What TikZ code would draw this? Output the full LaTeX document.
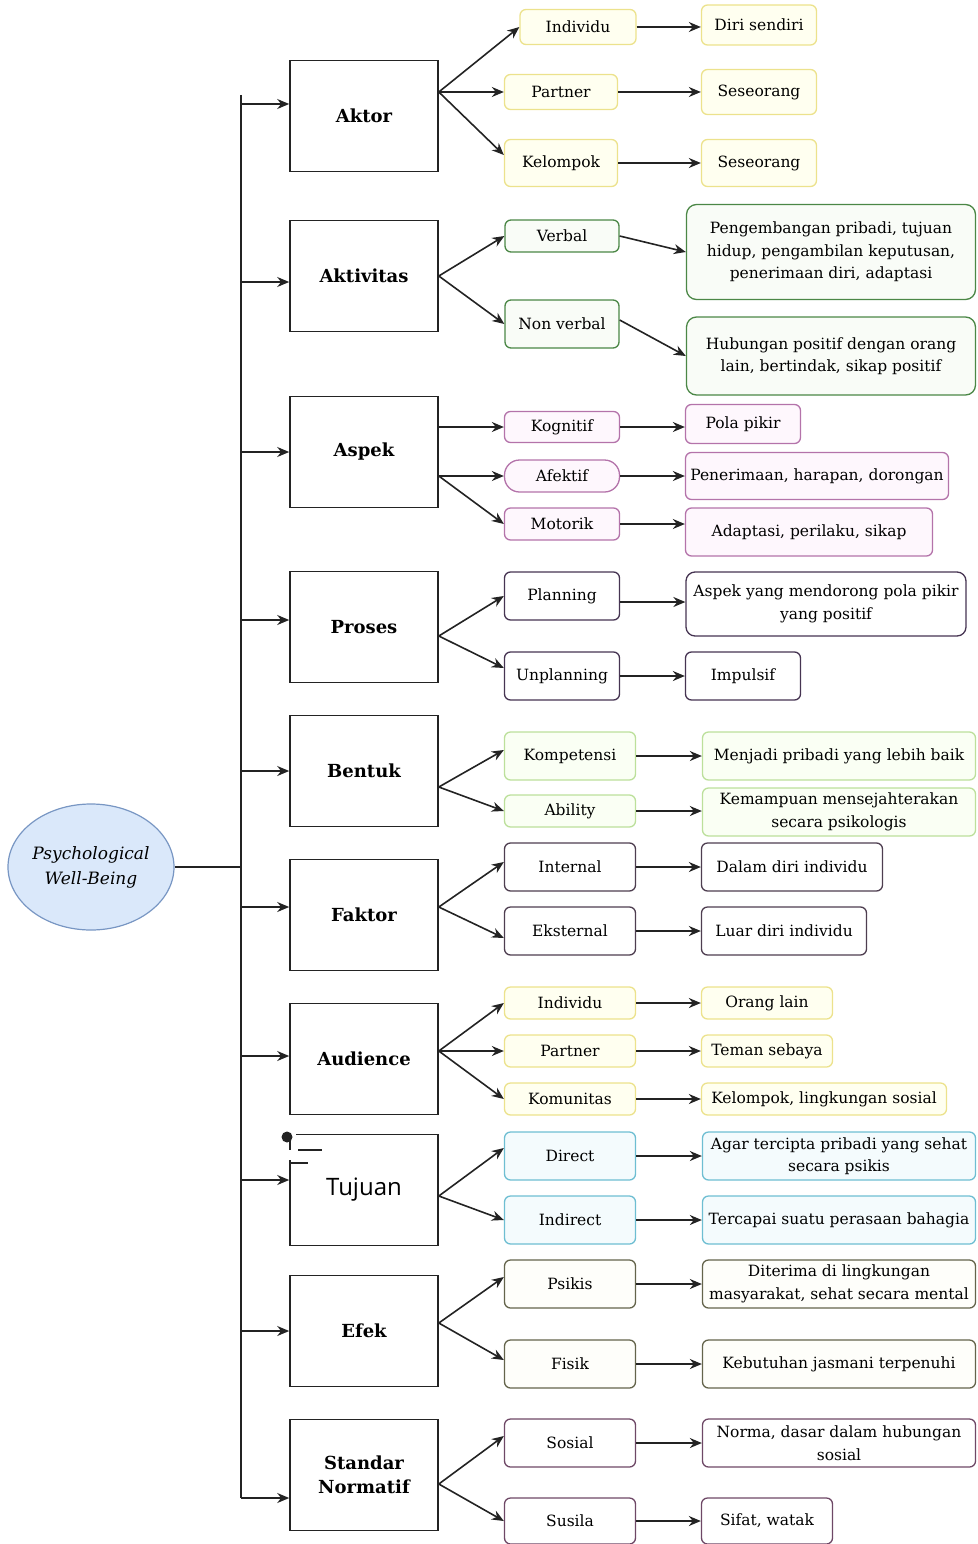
\documentclass[tikz,border=0pt]{standalone}
\usepackage{fontspec}
\setmainfont{DejaVu Serif}
\newfontfamily\tujuanfont{Open Sans}
\usetikzlibrary{arrows.meta,shapes.geometric}

% colours of the boxes (border / fill)
\definecolor{garis}{RGB}{35,35,35}
\definecolor{biruG}{RGB}{120,150,195}
\definecolor{biruF}{RGB}{218,232,250}
\definecolor{kuningG}{RGB}{236,226,140}
\definecolor{kuningF}{RGB}{255,255,240}
\definecolor{hijauG}{RGB}{75,135,70}
\definecolor{hijauF}{RGB}{249,252,247}
\definecolor{pinkG}{RGB}{180,115,170}
\definecolor{pinkF}{RGB}{254,247,253}
\definecolor{unguG}{RGB}{70,52,82}
\definecolor{hmudaG}{RGB}{188,224,155}
\definecolor{hmudaF}{RGB}{250,255,244}
\definecolor{coklatG}{RGB}{78,62,80}
\definecolor{cyanG}{RGB}{110,190,210}
\definecolor{cyanF}{RGB}{244,251,253}
\definecolor{zaitunG}{RGB}{100,100,75}
\definecolor{zaitunF}{RGB}{254,254,250}
\definecolor{maroonG}{RGB}{110,72,102}

\tikzset{
  utama/.style={draw=garis, line width=1.6pt, fill=white, minimum width=148, minimum height=111,
    align=center, font=\bfseries\fontsize{18}{24}\selectfont},
  sub/.style={draw, line width=1.3pt, rounded corners=6pt, align=center, inner sep=1pt,
    font=\fontsize{15.5}{22.5}\selectfont},
  panah/.style={-{Stealth[length=12pt,width=10pt]}, line width=1.6pt, draw=garis},
  kuning/.style={draw=kuningG, fill=kuningF},
  hijau/.style={draw=hijauG, fill=hijauF},
  pink/.style={draw=pinkG, fill=pinkF},
  ungu/.style={draw=unguG, fill=white},
  hmuda/.style={draw=hmudaG, fill=hmudaF},
  coklat/.style={draw=coklatG, fill=white},
  cyan/.style={draw=cyanG, fill=cyanF},
  zaitun/.style={draw=zaitunG, fill=zaitunF},
  maroon/.style={draw=maroonG, fill=white}
}

\begin{document}
\begin{tikzpicture}[x=1pt,y=-1pt]

    \useasboundingbox (0,0) rectangle (977,1544);

    % --- Root ---
    \node[ellipse, draw=biruG, fill=biruF, line width=1.2pt, minimum width=166, minimum height=126,
      align=center, inner sep=0pt, font=\itshape\fontsize{17}{25}\selectfont]
      (pwb) at (91,867) {Psychological\\Well-Being};

    % --- Bus line ---
    \coordinate (busTop) at (241,95);
    \coordinate (busBot) at (241,1498);
    \draw[line width=1.6pt, garis] (busTop) -- (busBot);
    \draw[line width=1.6pt, garis] (pwb.east) -- (busTop |- pwb.east);

    % --- Main boxes ---
    \node[utama] (aktor) at (364,116) {Aktor};
    \node[utama] (aktivitas) at (364,276) {Aktivitas};
    \node[utama] (aspek) at (364,452) {Aspek};
    \node[utama] (proses) at (364,627) {Proses};
    \node[utama] (bentuk) at (364,771) {Bentuk};
    \node[utama] (faktor) at (364,915) {Faktor};
    \node[utama] (audience) at (364,1059) {Audience};
    \node[utama, font=\tujuanfont\fontsize{24}{26}\selectfont] (tujuan) at (364,1190) {Tujuan};
    \node[utama] (efek) at (364,1331) {Efek};
    \node[utama] (standar) at (364,1475) {Standar\\Normatif};

    % arrows from the bus to the main boxes
    \path ([yshift=12pt]aktor.west) coordinate (pAktor);
    \path ([yshift=-6pt]aktivitas.west) coordinate (pAktivitas);
    \path ([yshift=7pt]proses.west) coordinate (pProses);
    \path ([yshift=8pt]faktor.west) coordinate (pFaktor);
    \path ([yshift=3pt]audience.west) coordinate (pAudience);
    \path ([yshift=10pt]tujuan.west) coordinate (pTujuan);
    \path ([yshift=-23pt]standar.west) coordinate (pStandar);
    \draw[panah] (busTop |- pAktor) -- (pAktor);
    \draw[panah] (busTop |- pAktivitas) -- (pAktivitas);
    \draw[panah] (busTop |- aspek.west) -- (aspek.west);
    \draw[panah] (busTop |- pProses) -- (pProses);
    \draw[panah] (busTop |- bentuk.west) -- (bentuk.west);
    \draw[panah] (busTop |- pFaktor) -- (pFaktor);
    \draw[panah] (busTop |- pAudience) -- (pAudience);
    \draw[panah] (busTop |- pTujuan) -- (pTujuan);
    \draw[panah] (busTop |- efek.west) -- (efek.west);
    \draw[panah] (busBot) -- (pStandar);

    % stray marks on the Tujuan box
    \fill[white] (286,1131) rectangle (296,1160);
    \draw[line width=1.6pt, garis] (290,1140) -- (290,1150);
    \fill[garis] (287,1137) circle (5.5pt);
    \draw[line width=1.2pt, garis] (298,1150) -- (322,1150);
    \draw[line width=1.2pt, garis] (290,1163) -- (308,1163);

    % --- Aktor ---
    \node[sub, kuning, minimum width=116, minimum height=35] (aktIndividu) at (578,27) {Individu};
    \node[sub, kuning, minimum width=113, minimum height=35] (aktPartner) at (561,92) {Partner};
    \node[sub, kuning, minimum width=113, minimum height=47] (aktKelompok) at (561,163) {Kelompok};
    \node[sub, kuning, minimum width=115, minimum height=40] (aktDiri) at (759,25) {Diri sendiri};
    \node[sub, kuning, minimum width=115, minimum height=45] (aktSeseorang) at (759,92) {Seseorang};
    \node[sub, kuning, minimum width=115, minimum height=47] (aktSeseorangB) at (759,163) {Seseorang};
    \draw[panah] (aktor.east |- aktPartner) -- (aktIndividu.west);
    \draw[panah] (aktor.east |- aktPartner) -- (aktPartner.west);
    \draw[panah] (aktor.east |- aktPartner) -- ([yshift=8pt]aktKelompok.west);
    \draw[panah] (aktIndividu.east) -- (aktIndividu.east -| aktDiri.west);
    \draw[panah] (aktPartner.east) -- (aktSeseorang.west);
    \draw[panah] (aktKelompok.east) -- (aktSeseorangB.west);

    % --- Aktivitas ---
    \node[sub, hijau, minimum width=114, minimum height=32] (verbal) at (562,236) {Verbal};
    \node[sub, hijau, minimum width=114, minimum height=48] (nonVerbal) at (562,324) {Non verbal};
    \node[sub, hijau, rounded corners=10pt, minimum width=289, minimum height=95] (verbalIsi) at (831,252)
      {Pengembangan pribadi, tujuan\\hidup, pengambilan keputusan,\\penerimaan diri, adaptasi};
    \node[sub, hijau, rounded corners=10pt, minimum width=289, minimum height=78] (nonVerbalIsi) at (831,356)
      {Hubungan positif dengan orang\\lain, bertindak, sikap positif};
    \draw[panah] (aktivitas.east) -- (verbal.west);
    \draw[panah] (aktivitas.east) -- (nonVerbal.west);
    \draw[panah] (verbal.east) -- (verbalIsi.west);
    \draw[panah] ([yshift=4pt]nonVerbal.east) -- (nonVerbalIsi.west);

    % --- Aspek ---
    \node[sub, pink, minimum width=115, minimum height=31] (kognitif) at (562,427) {Kognitif};
    \node[sub, pink, rounded corners=15pt, minimum width=115, minimum height=32] (afektif) at (562,476) {Afektif};
    \node[sub, pink, minimum width=115, minimum height=32] (motorik) at (562,524) {Motorik};
    \node[sub, pink, minimum width=115, minimum height=39] (polaPikir) at (743,424) {Pola pikir};
    \node[sub, pink, minimum width=263, minimum height=47] (penerimaan) at (817,476) {Penerimaan, harapan, dorongan};
    \node[sub, pink, minimum width=247, minimum height=48] (adaptasi) at (809,532) {Adaptasi, perilaku, sikap};
    \draw[panah] (aspek.east |- kognitif) -- (kognitif.west);
    \draw[panah] (aspek.east |- afektif) -- (afektif.west);
    \draw[panah] (aspek.east |- afektif) -- (motorik.west);
    \draw[panah] (kognitif.east) -- (kognitif.east -| polaPikir.west);
    \draw[panah] (afektif.east) -- (penerimaan.west);
    \draw[panah] (motorik.east) -- (motorik.east -| adaptasi.west);

    % --- Proses ---
    \node[sub, ungu, minimum width=115, minimum height=48] (planning) at (562,596) {Planning};
    \node[sub, ungu, minimum width=115, minimum height=48] (unplanning) at (562,676) {Unplanning};
    \node[sub, ungu, rounded corners=9pt, minimum width=280, minimum height=64] (planningIsi) at (826,604)
      {Aspek yang mendorong pola pikir\\yang positif};
    \node[sub, ungu, minimum width=115, minimum height=48] (impulsif) at (743,676) {Impulsif};
    \draw[panah] ([yshift=-9pt]proses.east) -- (planning.west);
    \draw[panah] ([yshift=-9pt]proses.east) -- ([yshift=8pt]unplanning.west);
    \draw[panah] ([yshift=-6pt]planning.east) -- ([yshift=-6pt]planning.east -| planningIsi.west);
    \draw[panah] (unplanning.east) -- (impulsif.west);

    % --- Bentuk ---
    \node[sub, hmuda, minimum width=131, minimum height=48] (kompetensi) at (570,756) {Kompetensi};
    \node[sub, hmuda, minimum width=131, minimum height=32] (ability) at (570,811) {Ability};
    \node[sub, hmuda, minimum width=273, minimum height=48] (menjadi) at (839,756) {Menjadi pribadi yang lebih baik};
    \node[sub, hmuda, minimum width=273, minimum height=48] (kemampuan) at (839,812)
      {Kemampuan mensejahterakan\\secara psikologis};
    \draw[panah] ([yshift=-16pt]bentuk.east) -- ([yshift=6pt]kompetensi.west);
    \draw[panah] ([yshift=-16pt]bentuk.east) -- (ability.west);
    \draw[panah] (kompetensi.east) -- (menjadi.west);
    \draw[panah] (ability.east) -- (ability.east -| kemampuan.west);

    % --- Faktor ---
    \node[sub, coklat, minimum width=131, minimum height=48] (internal) at (570,867) {Internal};
    \node[sub, coklat, minimum width=131, minimum height=48] (eksternal) at (570,931) {Eksternal};
    \node[sub, coklat, minimum width=181, minimum height=48] (dalamDiri) at (792,867) {Dalam diri individu};
    \node[sub, coklat, minimum width=165, minimum height=48] (luarDiri) at (784,931) {Luar diri individu};
    \draw[panah] ([yshift=8pt]faktor.east) -- ([yshift=5pt]internal.west);
    \draw[panah] ([yshift=8pt]faktor.east) -- ([yshift=-7pt]eksternal.west);
    \draw[panah] (internal.east) -- (dalamDiri.west);
    \draw[panah] (eksternal.east) -- (luarDiri.west);

    % --- Audience ---
    \node[sub, kuning, minimum width=131, minimum height=32] (audIndividu) at (570,1003) {Individu};
    \node[sub, kuning, minimum width=131, minimum height=32] (audPartner) at (570,1051) {Partner};
    \node[sub, kuning, minimum width=131, minimum height=32] (komunitas) at (570,1099) {Komunitas};
    \node[sub, kuning, minimum width=131, minimum height=32] (orangLain) at (767,1003) {Orang lain};
    \node[sub, kuning, minimum width=131, minimum height=32] (temanSebaya) at (767,1051) {Teman sebaya};
    \node[sub, kuning, minimum width=245, minimum height=32] (lingkungan) at (824,1099) {Kelompok, lingkungan sosial};
    \draw[panah] ([yshift=8pt]audience.east) -- (audIndividu.west);
    \draw[panah] ([yshift=8pt]audience.east) -- (audPartner.west);
    \draw[panah] ([yshift=8pt]audience.east) -- (komunitas.west);
    \draw[panah] (audIndividu.east) -- (orangLain.west);
    \draw[panah] (audPartner.east) -- (temanSebaya.west);
    \draw[panah] (komunitas.east) -- (lingkungan.west);

    % --- Tujuan ---
    \node[sub, cyan, minimum width=131, minimum height=48] (direct) at (570,1156) {Direct};
    \node[sub, cyan, minimum width=131, minimum height=48] (indirect) at (570,1220) {Indirect};
    \node[sub, cyan, minimum width=273, minimum height=48] (agar) at (839,1156)
      {Agar tercipta pribadi yang sehat\\secara psikis};
    \node[sub, cyan, minimum width=273, minimum height=48] (tercapai) at (839,1220) {Tercapai suatu perasaan bahagia};
    \draw[panah] ([yshift=-6pt]tujuan.east) -- ([yshift=8pt]direct.west);
    \draw[panah] ([yshift=-6pt]tujuan.east) -- (indirect.west);
    \draw[panah] (direct.east) -- (agar.west);
    \draw[panah] (indirect.east) -- (tercapai.west);

    % --- Efek ---
    \node[sub, zaitun, minimum width=131, minimum height=48] (psikis) at (570,1284) {Psikis};
    \node[sub, zaitun, minimum width=131, minimum height=48] (fisik) at (570,1364) {Fisik};
    \node[sub, zaitun, minimum width=273, minimum height=48] (diterima) at (839,1284)
      {Diterima di lingkungan\\masyarakat, sehat secara mental};
    \node[sub, zaitun, minimum width=273, minimum height=48] (kebutuhan) at (839,1364) {Kebutuhan jasmani terpenuhi};
    \draw[panah] ([yshift=8pt]efek.east) -- ([yshift=7pt]psikis.west);
    \draw[panah] ([yshift=8pt]efek.east) -- ([yshift=4pt]fisik.west);
    \draw[panah] (psikis.east) -- (diterima.west);
    \draw[panah] (fisik.east) -- (kebutuhan.west);

    % --- Standar Normatif ---
    \node[sub, maroon, minimum width=131, minimum height=48] (sosial) at (570,1443) {Sosial};
    \node[sub, maroon, minimum width=131, minimum height=46] (susila) at (570,1521) {Susila};
    \node[sub, maroon, minimum width=273, minimum height=48] (norma) at (839,1443)
      {Norma, dasar dalam hubungan\\sosial};
    \node[sub, maroon, minimum width=131, minimum height=46] (sifat) at (767,1521) {Sifat, watak};
    \draw[panah] ([yshift=-9pt]standar.east) -- ([yshift=7pt]sosial.west);
    \draw[panah] ([yshift=-9pt]standar.east) -- (susila.west);
    \draw[panah] (sosial.east) -- (norma.west);
    \draw[panah] (susila.east) -- (sifat.west);

\end{tikzpicture}
\end{document}
